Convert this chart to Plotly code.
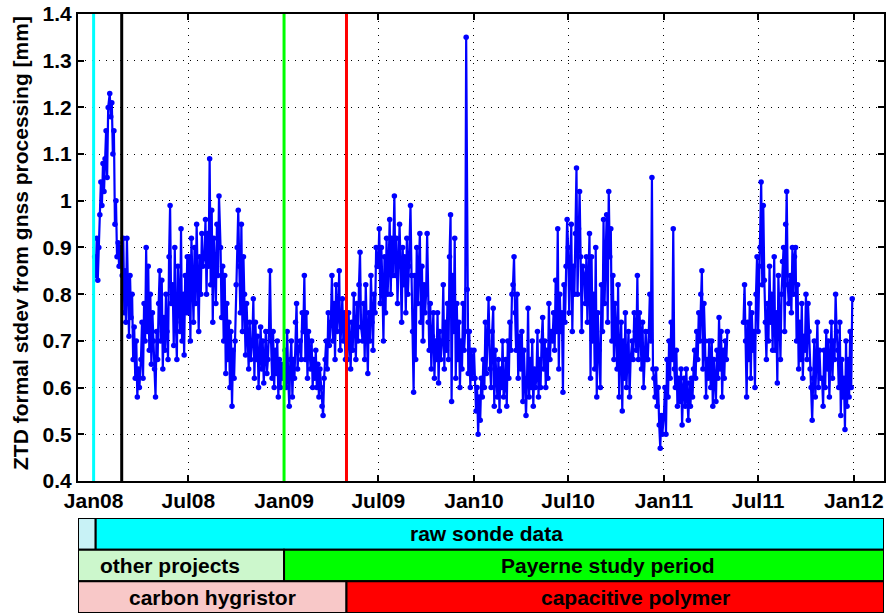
import datetime as dt
import plotly.graph_objects as go

# ZTD formal standard deviation [mm], sampled on odd days of each month
# (rows = Jan..Dec, None = no solution available)
ztd_2008 = [
    [None, 0.88, 0.84, 0.92, 0.83, 0.90, 0.97, 1.04, 0.99, 1.08, 1.02, 1.09, 1.15, 1.05, 1.20],
    [1.23, 1.18, 1.21, 1.10, 1.15, 0.95, 1.00, 0.88, 0.91, 0.86, 0.90, 0.87, 0.84, 0.92, 0.76],
    [0.85, 0.74, 0.92, 0.78, 0.71, 0.84, 0.75, 0.80, 0.66, 0.73, 0.62, 0.70, 0.58, 0.64, 0.60],
    [0.66, 0.74, 0.62, 0.78, 0.70, 0.90, 0.72, 0.86, 0.68, 0.80, 0.65, 0.76, 0.70, 0.64, 0.58],
    [0.72, 0.66, 0.78, 0.85, 0.70, 0.83, 0.64, 0.75, 0.68, 0.80, 0.72, 0.66, 0.88, 0.99, 0.78],
    [0.82, 0.69, 0.90, 0.74, 0.66, 0.86, 0.78, 0.72, 0.94, 0.70, 0.80, 0.67, 0.84, 0.76, 0.88],
    [0.76, 0.88, 0.70, 0.92, 0.81, 0.74, 0.90, 0.78, 0.95, 0.84, 0.72, 0.88, 0.80, 0.93, 0.86],
    [0.88, 0.96, 0.80, 0.93, 0.86, 1.09, 0.82, 0.98, 0.74, 0.92, 0.86, 0.78, 0.95, 0.84, 1.01],
    [0.90, 0.75, 0.86, 0.70, 0.84, 0.63, 0.78, 0.66, 0.74, 0.60, 0.72, 0.56, 0.68, 0.62, 0.70],
    [0.82, 0.90, 0.98, 0.86, 0.76, 0.95, 0.72, 0.88, 0.80, 0.67, 0.78, 0.70, 0.64, 0.74, 0.66],
    [0.70, 0.79, 0.62, 0.74, 0.66, 0.71, 0.60, 0.68, 0.73, 0.64, 0.70, 0.61, 0.66, 0.72, 0.63],
    [0.66, 0.72, 0.85, 0.70, 0.62, 0.72, 0.60, 0.68, 0.63, 0.70, 0.58, 0.66, 0.60, 0.65, 0.62],
]
ztd_2009 = [
    [0.64, 0.68, 0.60, 0.72, 0.62, 0.56, 0.66, 0.70, 0.58, 0.66, 0.62, 0.74, 0.78, 0.64, 0.68],
    [0.70, 0.66, 0.76, 0.72, 0.84, 0.66, 0.76, 0.62, 0.72, 0.68, 0.64, 0.70, 0.60, 0.66],
    [0.62, 0.68, 0.60, 0.65, 0.58, 0.64, 0.60, 0.56, 0.54, 0.62, 0.66, 0.70, 0.64, 0.76, 0.69],
    [0.74, 0.84, 0.70, 0.78, 0.66, 0.82, 0.72, 0.76, 0.85, 0.68, 0.74, 0.79, 0.70, 0.76, 0.66],
    [0.72, 0.66, 0.76, 0.70, 0.64, 0.74, 0.68, 0.80, 0.72, 0.66, 0.78, 0.70, 0.82, 0.89, 0.73],
    [0.70, 0.78, 0.66, 0.82, 0.72, 0.63, 0.76, 0.70, 0.84, 0.74, 0.68, 0.80, 0.76, 0.90, 0.86],
    [0.86, 0.94, 0.78, 0.90, 0.82, 0.70, 0.88, 0.76, 0.92, 0.80, 0.86, 0.96, 0.80, 0.92, 0.84],
    [1.01, 0.84, 0.92, 0.78, 0.88, 0.95, 0.86, 0.74, 0.90, 0.82, 0.88, 0.76, 0.92, 0.80, 0.86],
    [0.99, 0.84, 0.72, 0.59, 0.84, 0.66, 0.90, 0.78, 0.86, 0.93, 0.74, 0.86, 0.70, 0.82, 0.76],
    [0.80, 0.93, 0.74, 0.68, 0.78, 0.64, 0.71, 0.76, 0.62, 0.70, 0.66, 0.76, 0.61, 0.72, 0.66],
    [0.70, 0.82, 0.64, 0.74, 0.68, 0.78, 0.66, 0.88, 0.97, 0.57, 0.84, 0.72, 0.92, 0.62, 0.78],
    [0.66, 0.74, 0.60, 0.70, 0.64, 0.78, 0.68, 0.72, 1.35, 0.81, 0.63, 0.72, 0.60, 0.68, 0.62],
]
ztd_2010 = [
    [0.68, 0.62, 0.55, 0.60, 0.50, 0.58, 0.53, 0.62, 0.58, 0.66, 0.60, 0.74, 0.63, 0.70, 0.79],
    [0.64, 0.60, 0.72, 0.77, 0.56, 0.68, 0.62, 0.58, 0.66, 0.55, 0.64, 0.60, 0.70, 0.58],
    [0.60, 0.66, 0.56, 0.70, 0.62, 0.74, 0.68, 0.80, 0.82, 0.88, 0.76, 0.68, 0.80, 0.62, 0.71],
    [0.64, 0.72, 0.57, 0.68, 0.60, 0.54, 0.62, 0.77, 0.58, 0.66, 0.60, 0.70, 0.56, 0.64, 0.60],
    [0.62, 0.72, 0.58, 0.66, 0.60, 0.70, 0.75, 0.64, 0.70, 0.60, 0.68, 0.62, 0.78, 0.66, 0.72],
    [0.70, 0.76, 0.68, 0.83, 0.72, 0.94, 0.64, 0.80, 0.72, 0.76, 0.59, 0.82, 0.74, 0.86, 0.96],
    [0.90, 0.76, 0.86, 0.95, 0.72, 0.86, 0.80, 0.93, 1.07, 0.80, 0.94, 1.02, 0.88, 0.72, 0.86],
    [0.84, 0.78, 0.88, 0.74, 0.82, 0.93, 0.62, 0.88, 0.70, 0.80, 0.64, 0.90, 0.58, 0.76, 0.68],
    [0.60, 0.82, 0.72, 0.96, 0.78, 0.88, 0.97, 0.74, 1.02, 0.88, 0.94, 0.70, 0.84, 0.66, 0.78],
    [0.72, 0.64, 0.82, 0.58, 0.68, 0.74, 0.55, 0.70, 0.62, 0.76, 0.60, 0.66, 0.72, 0.58, 0.66],
    [0.70, 0.66, 0.76, 0.72, 0.68, 0.84, 0.66, 0.76, 0.72, 0.64, 0.74, 0.60, 0.68, 0.72, 0.66],
    [0.66, 0.72, 0.80, 0.70, 1.05, 0.64, 0.62, 0.58, 0.64, 0.56, 0.60, 0.52, 0.47, 0.54, 0.50],
]
ztd_2011 = [
    [0.54, 0.60, 0.50, 0.66, 0.58, 0.70, 0.62, 0.74, 0.66, 0.94, 0.64, 0.60, 0.68, 0.56, 0.62],
    [0.57, 0.64, 0.52, 0.60, 0.62, 0.56, 0.64, 0.58, 0.53, 0.61, 0.56, 0.62, 0.58, 0.64],
    [0.68, 0.62, 0.72, 0.66, 0.76, 0.70, 0.80, 0.85, 0.64, 0.78, 0.70, 0.58, 0.66, 0.62, 0.70],
    [0.60, 0.70, 0.56, 0.66, 0.62, 0.57, 0.68, 0.62, 0.75, 0.64, 0.72, 0.58, 0.68, 0.62, 0.70],
    [0.66, 0.72, None, None, None, None, None, None, None, None, None, None, None, None, None],
    [None, 0.74, 0.82, 0.70, 0.58, 0.74, 0.66, 0.78, 0.62, 0.76, 0.68, 0.72, 0.60, 0.80, 0.88],
    [0.72, 0.86, 0.90, 1.04, 0.82, 0.99, 0.83, 0.74, 0.66, 0.78, 0.70, 0.86, 0.74, 0.80, 0.68],
    [0.88, 0.68, 0.76, 0.61, 0.84, 0.72, 0.66, 0.80, 0.87, 0.90, 0.72, 0.95, 1.02, 0.82, 0.78],
    [0.84, 0.76, 0.90, 0.80, 0.88, 0.90, 0.70, 0.82, 0.64, 0.74, 0.66, 0.78, 0.62, 0.71, 0.68],
    [0.80, 0.66, 0.78, 0.72, 0.64, 0.60, 0.53, 0.62, 0.70, 0.58, 0.66, 0.74, 0.60, 0.68, 0.62],
    [0.62, 0.56, 0.68, 0.60, 0.72, 0.64, 0.70, 0.58, 0.66, 0.74, 0.62, 0.70, 0.66, 0.80, 0.72],
    [0.68, 0.60, 0.74, 0.54, 0.66, 0.58, 0.62, 0.51, 0.70, 0.56, 0.66, 0.58, 0.72, 0.60, 0.79],
]
years = [2008, 2009, 2010, 2011]
sample_days = [1, 3, 5, 7, 9, 11, 13, 15, 17, 19, 21, 23, 25, 27, 29]

# Instrument / processing change dates and their marker colours
event_dates = ["2008-01-01", "2008-02-24", "2009-01-01", "2009-05-01"]
event_colors = ["#00FFFF", "#000000", "#00FF00", "#FF0000"]

# Period bars (row, start, end, fill, label)
period_rows = [2, 2, 1, 1, 0, 0]
period_start = ["2007-12-02", "2008-01-05", "2007-12-02", "2009-01-01", "2007-12-02", "2009-05-01"]
period_end = ["2008-01-05", "2012-02-28", "2009-01-01", "2012-02-28", "2009-05-01", "2012-02-28"]
period_fill = ["#C8F2F6", "#00FFFF", "#CCF7CC", "#00FF00", "#F8C8C8", "#FF0000"]
period_label = ["", "raw sonde data", "other projects", "Payerne study period",
                "carbon hygristor", "capacitive polymer"]
label_pos = ["", "2010-01-26", "2008-05-26", "2010-09-15", "2008-08-16", "2010-11-07"]

x_range = ["2007-12-02", "2012-02-28"]
tick_dates = ["2008-01-01", "2008-07-01", "2009-01-01", "2009-07-01", "2010-01-01",
              "2010-07-01", "2011-01-01", "2011-07-01", "2012-01-01"]
tick_text = ["Jan08", "Jul08", "Jan09", "Jul09", "Jan10", "Jul10", "Jan11", "Jul11", "Jan12"]

dates, values = [], []
for year, table in zip(years, [ztd_2008, ztd_2009, ztd_2010, ztd_2011]):
    for month, row in enumerate(table, start=1):
        for day, v in zip(sample_days, row):
            dates.append(dt.date(year, month, day))
            values.append(v)

FONT = "Liberation Sans"
FS = 21
fig = go.Figure()

fig.add_trace(go.Scatter(
    x=dates, y=values, mode="lines+markers", connectgaps=False,
    line=dict(color="#0000FF", width=2.2),
    marker=dict(color="#0000FF", size=5.5),
    xaxis="x", yaxis="y", showlegend=False, hoverinfo="x+y",
))

for d, c in zip(event_dates, event_colors):
    fig.add_shape(type="line", xref="x", yref="y", x0=d, x1=d, y0=0.4, y1=1.4,
                  line=dict(color=c, width=3), layer="above")

for r, s, e, f, lab, lp in zip(period_rows, period_start, period_end, period_fill,
                               period_label, label_pos):
    fig.add_shape(type="rect", xref="x2", yref="y2", x0=s, x1=e, y0=r, y1=r + 1,
                  fillcolor=f, line=dict(color="#000000", width=2), layer="above")
    if lab:
        fig.add_annotation(x=lp, y=r + 0.5, xref="x2", yref="y2", text=lab,
                           showarrow=False, xanchor="center", yanchor="middle",
                           font=dict(family=FONT, size=FS, color="#000000", weight="bold"))

# invisible trace to anchor the period axis
fig.add_trace(go.Scatter(x=x_range, y=[0, 3], mode="markers", marker=dict(opacity=0),
                         xaxis="x2", yaxis="y2", showlegend=False, hoverinfo="skip"))

grid = dict(showgrid=True, gridcolor="#000000", gridwidth=1, griddash="1px,6px")
fig.update_layout(
    width=887, height=616,
    margin=dict(l=78, r=3, t=14, b=2),
    paper_bgcolor="white", plot_bgcolor="white",
    xaxis=dict(domain=[0, 1], range=x_range, type="date", anchor="y", automargin=False,
               tickvals=tick_dates, ticktext=tick_text, ticks="inside", ticklen=6,
               tickwidth=2, tickcolor="#000000", showline=True, linewidth=2,
               linecolor="#000000", mirror="ticks", zeroline=False,
               tickfont=dict(family=FONT, size=FS, color="#000000", weight="bold"),
               **grid),
    yaxis=dict(domain=[0.2217, 1.0], range=[0.4, 1.4], anchor="x", automargin=False,
               tickvals=[0.4, 0.5, 0.6, 0.7, 0.8, 0.9, 1.0, 1.1, 1.2, 1.3, 1.4],
               ticktext=["0.4", "0.5", "0.6", "0.7", "0.8", "0.9", "1", "1.1", "1.2", "1.3", "1.4"],
               ticks="inside", ticklen=6, tickwidth=2, tickcolor="#000000",
               showline=True, linewidth=2, linecolor="#000000", mirror="ticks",
               zeroline=False,
               tickfont=dict(family=FONT, size=FS, color="#000000", weight="bold"),
               **grid),
    xaxis2=dict(domain=[0, 1], range=x_range, type="date", anchor="y2", automargin=False,
                showticklabels=False, showgrid=False, zeroline=False, ticks=""),
    yaxis2=dict(domain=[0.0017, 0.16], range=[0, 3], anchor="x2", automargin=False,
                showticklabels=False, showgrid=False, zeroline=False, ticks=""),
)

fig.add_annotation(
    text="ZTD formal stdev from gnss processing [mm]", textangle=-90,
    xref="paper", yref="paper", x=(20 - 78) / 806, y=(614 - 243) / 600,
    xanchor="center", yanchor="middle", showarrow=False,
    font=dict(family=FONT, size=FS, color="#000000", weight="bold"),
)

fig.write_html("out.html")
